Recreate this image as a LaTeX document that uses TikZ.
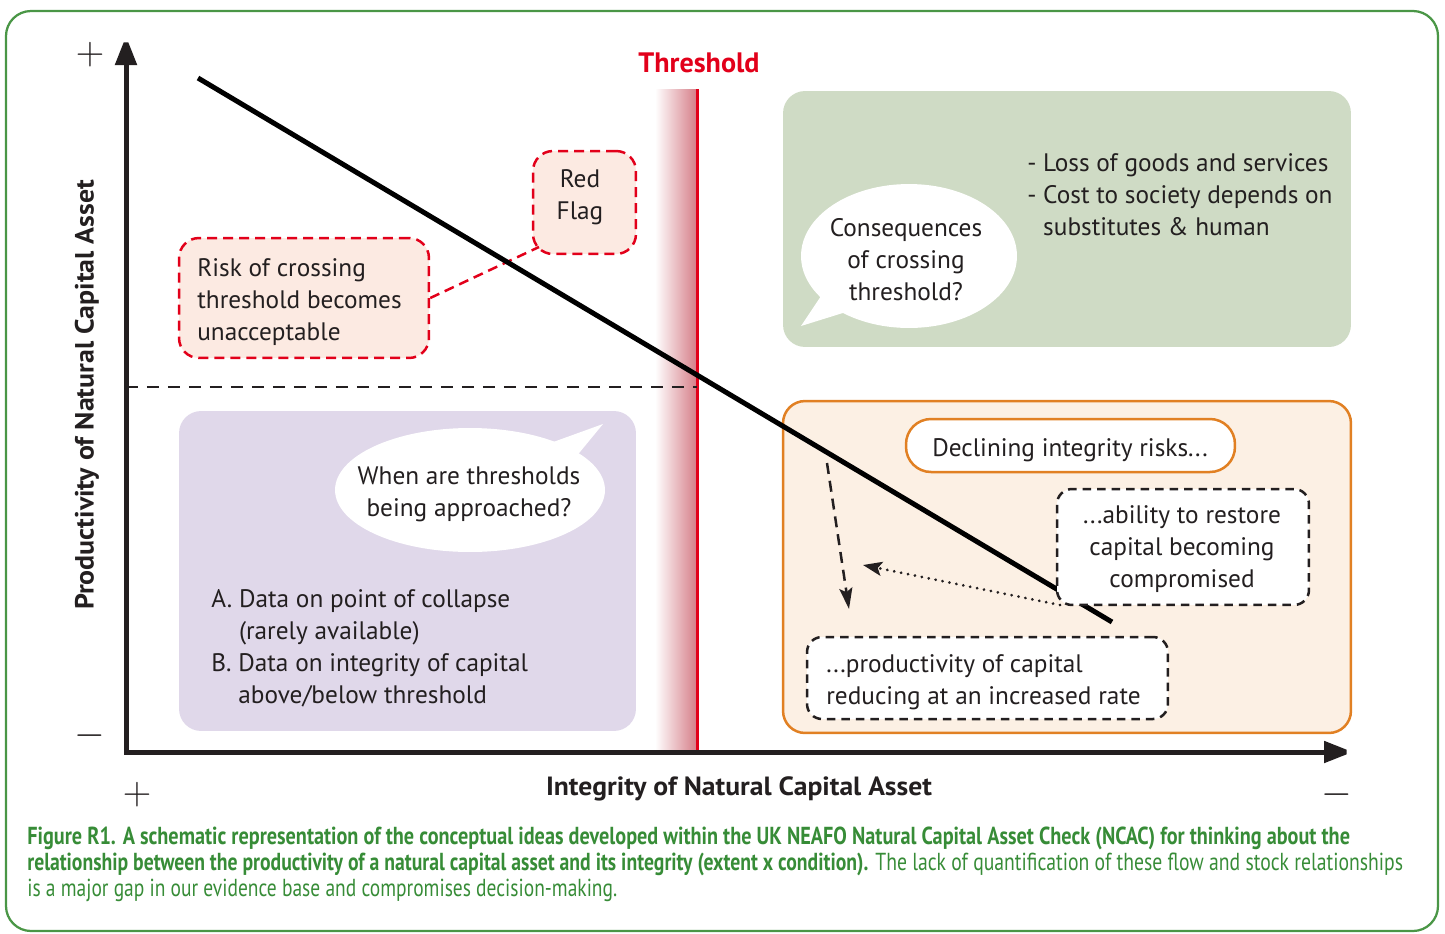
\documentclass[tikz,border=0pt]{standalone}
\usepackage{fontspec}
\setmainfont{PT Sans}
\usepackage{graphicx}
\usetikzlibrary{arrows.meta,shapes.geometric}
\definecolor{outerc}{RGB}{74,150,70}
\definecolor{capc}{RGB}{55,140,55}
\definecolor{greenbg}{RGB}{207,219,197}
\definecolor{purplebg}{RGB}{224,216,234}
\definecolor{pinkbg}{RGB}{252,234,226}
\definecolor{redc}{RGB}{226,0,26}
\definecolor{gradc}{RGB}{214,128,138}
\definecolor{orangec}{RGB}{225,128,35}
\definecolor{orangebg}{RGB}{252,240,228}
\definecolor{txtc}{RGB}{35,31,32}
\definecolor{dashc}{RGB}{35,31,32}
\begin{document}
\begin{tikzpicture}[x=0.02cm,y=-0.02cm,
  bgbox/.style={rounded corners=0.44cm, inner sep=0, draw=none},
  redbox/.style={draw=redc, fill=pinkbg, line width=0.05cm, dash pattern=on 0.2cm off 0.12cm, rounded corners=0.4cm, inner sep=0},
  blackbox/.style={draw=txtc, fill=white, line width=0.05cm, dash pattern=on 0.17cm off 0.12cm, rounded corners=0.3cm, inner sep=0},
  txt/.style={font=\fontsize{14.4}{18.2}\selectfont, text=txtc, inner sep=0, align=left},
  signtxt/.style={font=\fontsize{17}{17}\selectfont, text=txtc, inner sep=0},
  axlabel/.style={font=\bfseries\fontsize{15}{18}\selectfont, text=txtc, inner sep=0},
  captxt/.style={font=\fontsize{14}{16}\selectfont, text=capc, inner sep=0, anchor=west}]
\useasboundingbox (0,0) rectangle (1445,934);
% outer frame
\draw[outerc, line width=0.045cm, rounded corners=0.5cm] (6,11) rectangle (1438,931);

% background panels
\node[bgbox, fill=greenbg, minimum width=11.36cm, minimum height=5.12cm] (greenbox) at (1067,219) {};
\node[bgbox, fill=purplebg, minimum width=9.14cm, minimum height=6.4cm] (purplebox) at (407.5,571) {};
\node[bgbox, fill=orangebg, draw=orangec, line width=0.05cm, minimum width=11.36cm, minimum height=6.64cm] (orangebox) at (1067,567) {};

% threshold
\shade[left color=white, right color=gradc] (655,89) rectangle (696,752);
\coordinate (thtop) at (697,89);
\coordinate (thbot) at (697,752);
\draw[redc, line width=0.06cm] (thtop) -- (thbot);
\node[font=\bfseries\fontsize{16}{18}\selectfont, text=redc, inner sep=0] (thlabel) at (699,63) {Threshold};

% horizontal dashed level
\coordinate (hl1) at (126,387);
\coordinate (hl2) at (697,387);
\draw[dashc, line width=0.05cm, dash pattern=on 0.25cm off 0.17cm] (hl1) -- (hl2);

% red flag boxes
\node[redbox, minimum width=5.0cm, minimum height=2.4cm] (riskbox) at (304,298) {};
\node[redbox, minimum width=2.06cm, minimum height=2.06cm] (flagbox) at (584.5,202.5) {};
\coordinate (flagcorner) at (539,247);
\draw[redc, line width=0.05cm, dash pattern=on 0.2cm off 0.12cm] (riskbox.east) -- (flagcorner);

% main curve
\coordinate (L1) at (198,78);
\coordinate (L2) at (1112,622);
\draw[black, line width=0.1cm] (L1) -- (L2);

% orange panel boxes
\node[draw=orangec, fill=white, line width=0.05cm, rounded corners=0.5cm, minimum width=6.58cm, minimum height=1.06cm, inner sep=0] (declbox) at (1070.5,445.5) {};
\node[blackbox, minimum width=5.04cm, minimum height=2.32cm] (abilitybox) at (1183,547) {};
\node[blackbox, minimum width=7.22cm, minimum height=1.64cm] (prodbox) at (987.5,678) {};

% arrows
\coordinate (da1) at (827,463);
\coordinate (da2) at (849,609);
\draw[txtc, line width=0.05cm, dash pattern=on 0.22cm off 0.14cm, -{Stealth[length=0.42cm,width=0.26cm,inset=0.08cm]}] (da1) -- (da2);
\coordinate (dotend) at (863,565);
\coordinate (dotstart) at (1060,605);
\draw[txtc, line width=0.06cm, line cap=round, dash pattern=on 0.001cm off 0.14cm, -{Stealth[length=0.38cm,width=0.28cm,inset=0.08cm]}] (dotstart) -- (dotend);

% speech bubbles
\coordinate (b1a) at (823,293);
\coordinate (b1tip) at (801,326);
\coordinate (b1b) at (846,312);
\fill[white] (b1a) -- (b1tip) -- (b1b) -- cycle;
\node[ellipse, fill=white, minimum width=4.32cm, minimum height=2.88cm, inner sep=0] (conseq) at (909,256) {};
\coordinate (b2a) at (545,445);
\coordinate (b2tip) at (603,424);
\coordinate (b2b) at (575,458);
\fill[white] (b2a) -- (b2tip) -- (b2b) -- cycle;
\node[ellipse, fill=white, minimum width=5.4cm, minimum height=2.48cm, inner sep=0] (whenbubble) at (470,490) {};

% texts
\node[txt, anchor=west] (risktext) at (197,302) {Risk of crossing\\threshold becomes\\unacceptable};
\node[txt, align=center] (flagtext) at (580,197) {Red\\Flag};
\node[txt, align=center] (conseqtext) at (906,260) {Consequences\\of crossing\\threshold?};
\node[txt, anchor=west] (losstext) at (1027,195) {- Loss of goods and services\\- Cost to society depends on\\\hphantom{- }substitutes \& human};
\node[txt, align=center] (whentext) at (469,494) {When are thresholds\\being approached?};
\node[txt, anchor=west] (datatext) at (211,648) {A. Data on point of collapse\\\hphantom{A. }(rarely available)\\B. Data on integrity of capital\\\hphantom{B. }above/below threshold};
\node[txt, align=center] (decltext) at (1070,450) {Declining integrity risks...};
\node[txt, align=center] (abilitytext) at (1182,549) {...ability to restore\\capital becoming\\compromised};
\node[txt, anchor=west] (prodtext) at (826,682) {...productivity of capital\\reducing at an increased rate};

% axes
\coordinate (ytip) at (126,36);
\coordinate (O) at (126,752);
\coordinate (xtip) at (1353,752);
\draw[txtc, line width=0.1cm, miter limit=2, {Triangle[length=0.58cm,width=0.42cm]}-{Triangle[length=0.58cm,width=0.42cm]}] (ytip) -- (O) -- (xtip);
\node[signtxt] (yplus) at (90,55) {\scalebox{1.3}{$+$}};
\node[signtxt] (yminus) at (90,736) {\scalebox{1.3}{$-$}};
\node[signtxt] (xplus) at (137,795) {\scalebox{1.3}{$+$}};
\node[signtxt] (xminus) at (1337,795) {\scalebox{1.3}{$-$}};
\node[axlabel, rotate=90] (ylabel) at (87,395) {\resizebox{8.6cm}{\height}{Productivity of Natural Capital Asset}};
\node[axlabel] (xlabel) at (739,789) {\resizebox{7.72cm}{\height}{Integrity of Natural Capital Asset}};

% caption
\node[captxt] (cap1) at (27,838) {\resizebox{26.46cm}{\height}{\bfseries Figure R1. A schematic representation of the conceptual ideas developed within the UK NEAFO Natural Capital Asset Check (NCAC) for thinking about the}};
\node[captxt] (cap2) at (27,864) {\resizebox{27.52cm}{\height}{{\bfseries relationship between the productivity of a natural capital asset and its integrity (extent x condition).} The lack of quantification of these flow and stock relationships}};
\node[captxt] (cap3) at (27,890) {\resizebox{11.8cm}{\height}{is a major gap in our evidence base and compromises decision-making.}};
\end{tikzpicture}
\end{document}
